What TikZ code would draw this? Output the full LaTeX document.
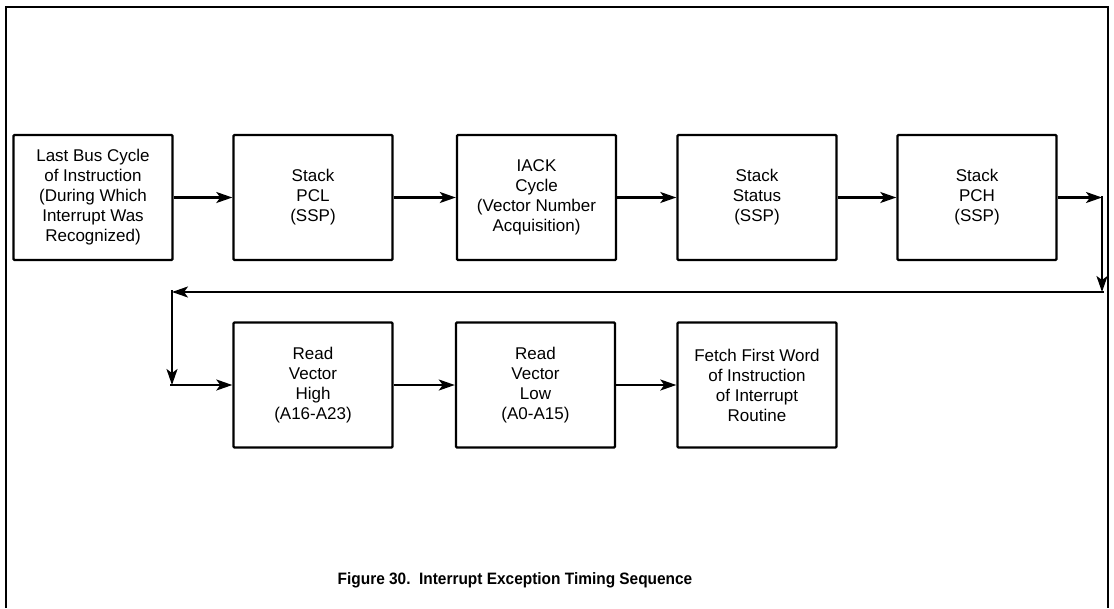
\documentclass[tikz,border=0pt]{standalone}
\usepackage{fontspec}
\usepackage{graphicx}
\setmainfont{Liberation Sans}
\usetikzlibrary{arrows.meta}
\begin{document}
\begin{tikzpicture}[x=1pt,y=-1pt,
  blk/.style={draw,line width=2.4pt,rounded corners=1pt,minimum width=159pt,minimum height=125pt,align=center,inner sep=2pt,
    font=\fontsize{17}{20}\selectfont},
  conn/.style={line width=2.2pt,-{Stealth[length=16pt,width=11pt,inset=4pt]}},
  seg/.style={line width=2.2pt}]
\useasboundingbox (0,0) rectangle (1114,608);
\draw[line width=2.4pt] (6,608) -- (6,7) -- (1108,7) -- (1108,608);
% row 1
\node[blk] (b1) at (93,197.5) {Last Bus Cycle\\of Instruction\\(During Which\\Interrupt Was\\Recognized)};
\node[blk] (b2) at (313,197.5) {Stack\\PCL\\(SSP)};
\node[blk] (b3) at (536.5,197.5) {IACK\\Cycle\\(Vector Number\\Acquisition)};
\node[blk] (b4) at (757,197.5) {Stack\\Status\\(SSP)};
\node[blk] (b5) at (977,197.5) {Stack\\PCH\\(SSP)};
% row 2
\node[blk] (b6) at (313,385) {Read\\Vector\\High\\(A16-A23)};
\node[blk] (b7) at (535.5,385) {Read\\Vector\\Low\\(A0-A15)};
\node[blk] (b8) at (757,385) {Fetch First Word\\of Instruction\\of Interrupt\\Routine};
% turn points
\coordinate (c1) at (1102,197.5);
\coordinate (c2) at (1102,292);
\coordinate (c3) at (172,292);
\coordinate (c4) at (172,385);
% connectors
\draw[conn] (b1.east) -- (b2.west);
\draw[conn] (b2.east) -- (b3.west);
\draw[conn] (b3.east) -- (b4.west);
\draw[conn] (b4.east) -- (b5.west);
\draw[conn] (b5.east) -- (c1);
\draw[conn] (c1) -- (c2);
\draw[conn] (c2) -- (c3);
\draw[conn] (c3) -- (c4);
\draw[conn] (c4) -- (b6.west);
\draw[conn] (b6.east) -- (b7.west);
\draw[conn] (b7.east) -- (b8.west);
% corner joins
\draw[seg,line cap=rect] (c1) -- ([yshift=-1pt]c1);
\draw[seg,line cap=rect] (c2) -- ([xshift=1pt]c2);
\draw[seg,line cap=rect] (c3) -- ([yshift=1pt]c3);
\draw[seg,line cap=rect] (c4) -- ([xshift=-1pt]c4);
% caption
\node[font=\fontsize{16.5}{20}\selectfont\bfseries] (cap) at (515,580) {\scalebox{0.935}[1]{Figure 30.\ \ Interrupt Exception Timing Sequence}};
\end{tikzpicture}
\end{document}
